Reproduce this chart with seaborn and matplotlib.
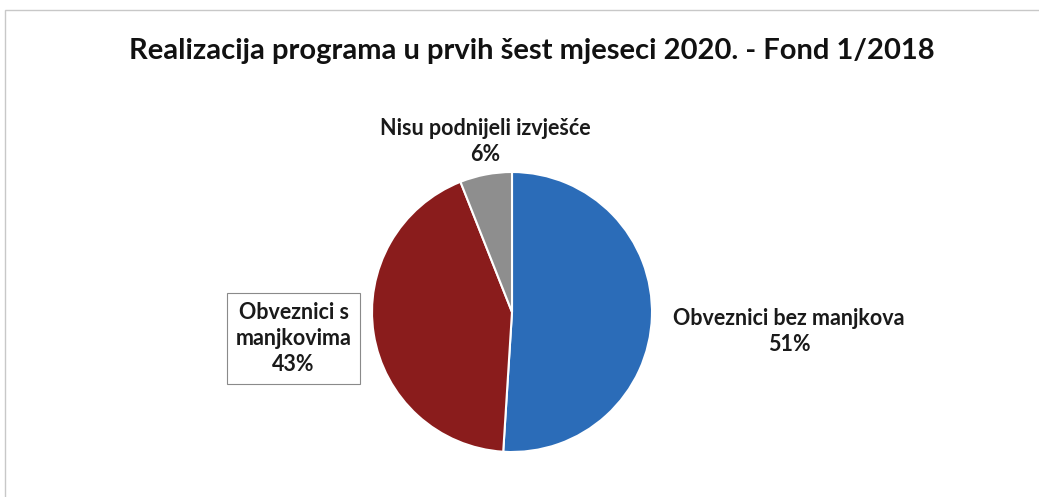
import matplotlib
matplotlib.use("Agg")
import matplotlib.pyplot as plt
from matplotlib.patches import Rectangle
import seaborn as sns

# data
labels = ["Obveznici bez manjkova", "Obveznici s\nmanjkovima", "Nisu podnijeli izvješće"]
shares = [51, 43, 6]
colors = ["#2b6cb8", "#8a1c1c", "#8e8e8e"]
title = "Realizacija programa u prvih šest mjeseci 2020. - Fond 1/2018"

sns.set_theme(style="white")
plt.rcParams["font.family"] = ["Lato", "DejaVu Sans"]

fig = plt.figure(figsize=(10.39, 4.97), dpi=100)
fig.patch.set_facecolor("white")
# thin frame of the original chart area
fig.patches.append(Rectangle((0.005, -0.05), 1.2, 1.03, transform=fig.transFigure,
                             fill=False, edgecolor="#c8c8c8", linewidth=1))

ax = fig.add_axes([(512 - 140) / 1039, (185 - 140) / 497, 280 / 1039, 280 / 497])
wedges, _ = ax.pie(shares, colors=colors, startangle=90, counterclock=False,
                   wedgeprops=dict(edgecolor="white", linewidth=1.5))
ax.set_xlim(-1, 1)
ax.set_ylim(-1, 1)
ax.set_aspect("equal")
ax.axis("off")

txt = dict(ha="center", va="center", fontsize=15.5, fontweight="bold",
           color="#1a1a1a", linespacing=1.3, clip_on=False)
ax.text(1.98, -0.14, f"{labels[0]}\n{shares[0]}%", **txt)
ax.text(-1.56, -0.19, f"{labels[1]}\n{shares[1]}%", **txt,
        bbox=dict(boxstyle="square,pad=0.4", facecolor="white", edgecolor="#8a8a8a", linewidth=0.8))
ax.text(-0.19, 1.22, f"{labels[2]}\n{shares[2]}%", **txt)

fig.text(0.512, 0.897, title, ha="center", va="center", fontsize=21, fontweight="bold", color="#111111")

fig.savefig("out.png", dpi=100, facecolor="white")
